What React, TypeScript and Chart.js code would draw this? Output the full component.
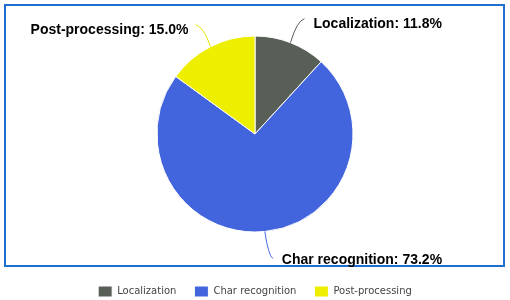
import React, { useEffect, useRef } from "react";
import { Chart, registerables } from "chart.js";

Chart.register(...registerables);

const categories = ["Localization", "Char recognition", "Post-processing"];
const percentages = [11.8, 73.2, 15.0];
const sliceColors = ["#585f56", "#4264dd", "#eeee00"];
const leaderColors = ["#585f56", "#4a6ae0", "#e6e600"];
// label placement relative to the slice anchor: [endDx, endDy, align]
const labelOffsets: [number, number, "left" | "right"][] = [
  [14, -24, "left"],
  [8, 27, "left"],
  [-15, -22, "right"],
];

const framePlugin = {
  id: "frame",
  beforeDraw(chart: any) {
    const ctx = chart.ctx;
    ctx.save();
    ctx.fillStyle = "#ffffff";
    ctx.fillRect(0, 0, chart.width, chart.height);
    ctx.strokeStyle = "#1f6fd2";
    ctx.lineWidth = 2;
    ctx.strokeRect(5, 5, 499, 261);
    ctx.restore();
  },
};

const labelPlugin = {
  id: "sliceLabels",
  afterDatasetsDraw(chart: any) {
    const ctx = chart.ctx;
    const meta = chart.getDatasetMeta(0);
    ctx.save();
    meta.data.forEach((arc: any, i: number) => {
      const { x, y, startAngle, endAngle, outerRadius } = arc.getProps(
        ["x", "y", "startAngle", "endAngle", "outerRadius"],
        true
      );
      const mid = (startAngle + endAngle) / 2;
      const ax = x + Math.cos(mid) * outerRadius;
      const ay = y + Math.sin(mid) * outerRadius;
      const [dx, dy, align] = labelOffsets[i];
      const ex = ax + dx;
      const ey = ay + dy;
      const cx = ax + dx * 0.45;
      const cy = ay + dy * 0.9;
      ctx.beginPath();
      ctx.moveTo(ax, ay);
      ctx.quadraticCurveTo(cx, cy, ex, ey);
      ctx.strokeStyle = leaderColors[i];
      ctx.lineWidth = 1;
      ctx.stroke();
      ctx.fillStyle = "#000000";
      ctx.font = "bold 14px 'Liberation Sans', Arial, sans-serif";
      ctx.textBaseline = "middle";
      ctx.textAlign = align;
      const text = `${categories[i]}: ${percentages[i].toFixed(1)}%`;
      const tx = align === "left" ? ex + 9 : ex - 7;
      const ty = dy < 0 ? ey + 5 : ey + 2;
      ctx.fillText(text, tx, ty);
    });
    ctx.restore();
  },
};

export default function App() {
  const canvasRef = useRef<HTMLCanvasElement | null>(null);

  useEffect(() => {
    if (!canvasRef.current) return;
    const chart = new Chart(canvasRef.current, {
      type: "pie",
      data: {
        labels: categories,
        datasets: [
          {
            data: percentages,
            backgroundColor: sliceColors,
            borderColor: "#ffffff",
            borderWidth: 1,
            radius: 98,
          },
        ],
      },
      options: {
        animation: false,
        responsive: false,
        devicePixelRatio: 1,
        layout: { padding: { top: -15, bottom: -7, left: 0, right: 0 } },
        plugins: {
          legend: {
            position: "bottom",
            labels: {
              boxWidth: 14,
              boxHeight: 11,
              padding: 18,
              color: "#444444",
              font: { family: "'DejaVu Sans', sans-serif", size: 10 },
            },
          },
          tooltip: { enabled: false },
        },
      },
      plugins: [framePlugin, labelPlugin],
    });
    return () => chart.destroy();
  }, []);

  return (
    <div style={{ position: "absolute", left: 0, top: 0, width: 510, height: 300 }}>
      <canvas ref={canvasRef} width={510} height={300} />
    </div>
  );
}
